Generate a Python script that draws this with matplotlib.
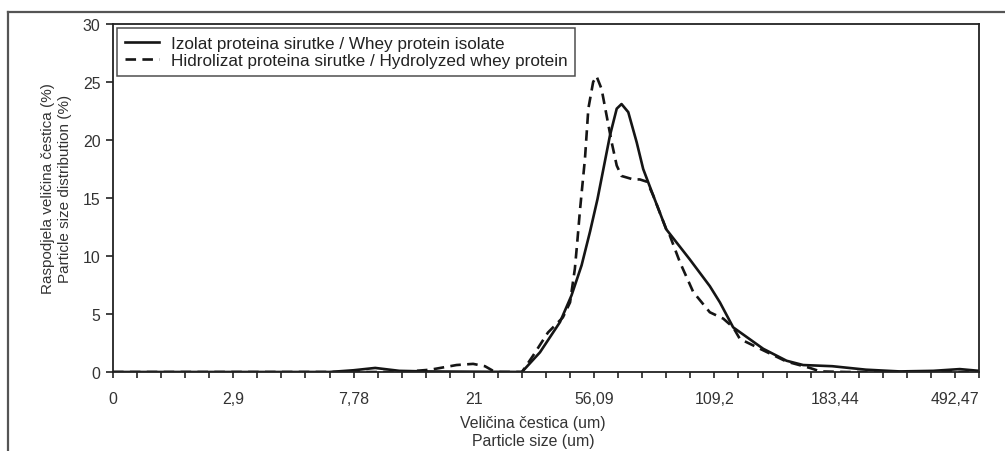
import matplotlib
matplotlib.use("Agg")
import matplotlib.pyplot as plt
from matplotlib.lines import Line2D

plt.rcParams['font.family'] = ['Liberation Sans', 'DejaVu Sans']

# ---- data (x in category-index units: one unit per minor tick) ----
tick_labels = ["0", "2,9", "7,78", "21", "56,09", "109,2", "183,44", "492,47"]
tick_positions = [0, 5, 10, 15, 20, 25, 30, 35]

isolate_x = [0, 9, 10, 10.9, 11.9, 13, 17.0, 17.75, 18.58, 19.06, 19.48, 19.83,
             20.14, 20.66, 20.94, 21.14, 21.42, 21.77, 22.04, 22.46, 23.0, 23.98,
             24.81, 25.23, 25.78, 27.03, 28.0, 28.69, 29.9, 31.3, 32.7, 34.1, 35.2, 36]
isolate_y = [0, 0, 0.15, 0.35, 0.1, 0.05, 0, 1.7, 4.3, 6.6, 9.2, 12.1,
             14.9, 20.4, 22.7, 23.1, 22.4, 19.8, 17.5, 15.2, 12.3, 9.7,
             7.4, 6.0, 3.85, 2.0, 0.97, 0.6, 0.5, 0.2, 0.05, 0.1, 0.25, 0.1]

hydro_x = [0, 12, 13.2, 14.28, 14.97, 15.46, 15.8, 16.1, 17.0, 17.46, 18.08, 18.7,
           19.0, 19.2, 19.3, 19.41, 19.62, 19.76, 19.96, 20.1, 20.31, 20.52, 20.73,
           20.94, 21.14, 21.63, 21.9, 22.2, 22.46, 23.0, 23.15, 23.57, 24.12, 24.81,
           25.37, 25.78, 26.06, 26.9, 28.0, 28.97, 29.4, 30.5, 36]
hydro_y = [0, 0, 0.2, 0.6, 0.7, 0.5, 0.1, 0, 0, 1.4, 3.4, 4.7,
           6.0, 8.9, 11.2, 13.9, 18.4, 22.7, 25.0, 25.5, 24.4, 22.1, 19.8,
           17.8, 16.9, 16.6, 16.6, 16.4, 15.2, 12.3, 11.75, 9.45, 6.9, 5.15,
           4.6, 3.85, 2.85, 2.0, 0.9, 0.35, 0.05, 0, 0]

label_isolate = "Izolat proteina sirutke / Whey protein isolate"
label_hydro = "Hidrolizat proteina sirutke / Hydrolyzed whey protein"

W, H = 1005, 452
fig = plt.figure(figsize=(W / 100, H / 100), dpi=100)
ax = fig.add_axes([113 / W, (H - 373) / H, 866 / W, 348 / H])

lc = "#151515"
ax.plot(isolate_x, isolate_y, color=lc, lw=1.9, solid_joinstyle='round', label=label_isolate)
ax.plot(hydro_x, hydro_y, color=lc, lw=1.9, dashes=(4.0, 2.4), label=label_hydro)

ax.set_xlim(0, 36)
ax.set_ylim(0, 30)
ax.set_xticks(tick_positions)
ax.set_xticklabels(tick_labels)
ax.set_xticks(range(0, 37), minor=True)
ax.set_yticks(range(0, 31, 5))

for s in ax.spines.values():
    s.set_color("#222222")
    s.set_linewidth(1.3)

ax.tick_params(axis='x', which='both', direction='out', length=4.5, width=1.2,
               colors="#222222", labelsize=11.4, pad=9, labelcolor="#333333")
ax.tick_params(axis='y', which='major', direction='out', length=5, width=1.2,
               colors="#222222", labelsize=11.4, pad=4, labelcolor="#333333")

leg = ax.legend(loc='upper left', bbox_to_anchor=(4 / 866, 1 - 4 / 348),
                borderaxespad=0, fontsize=12.3, handlelength=2.0,
                handletextpad=0.7, labelspacing=0.15, borderpad=0.45,
                frameon=True, fancybox=False)
leg.get_frame().set_edgecolor("#222222")
leg.get_frame().set_linewidth(1.1)
for t in leg.get_texts():
    t.set_color("#222222")

# axis titles (two-line, placed in figure pixels)
fig.text(56.7 / W, (H - 189) / H, "Raspodjela veličina čestica (%)\nParticle size distribution (%)",
         rotation=90, ha='center', va='center', fontsize=11.0, color="#333333",
         linespacing=1.25, multialignment='center')
fig.text(533 / W, (H - 433) / H, "Veličina čestica (um)\nParticle size (um)",
         ha='center', va='center', fontsize=11.4, color="#333333",
         linespacing=1.25, multialignment='center')

# outer page frame
fig.add_artist(Line2D([8 / W, 1.0], [(H - 13) / H, (H - 13) / H], transform=fig.transFigure,
                      color="#555555", lw=1.6))
fig.add_artist(Line2D([8 / W, 8 / W], [0, (H - 13) / H], transform=fig.transFigure,
                      color="#555555", lw=1.6))

fig.savefig("out.png", dpi=100)
